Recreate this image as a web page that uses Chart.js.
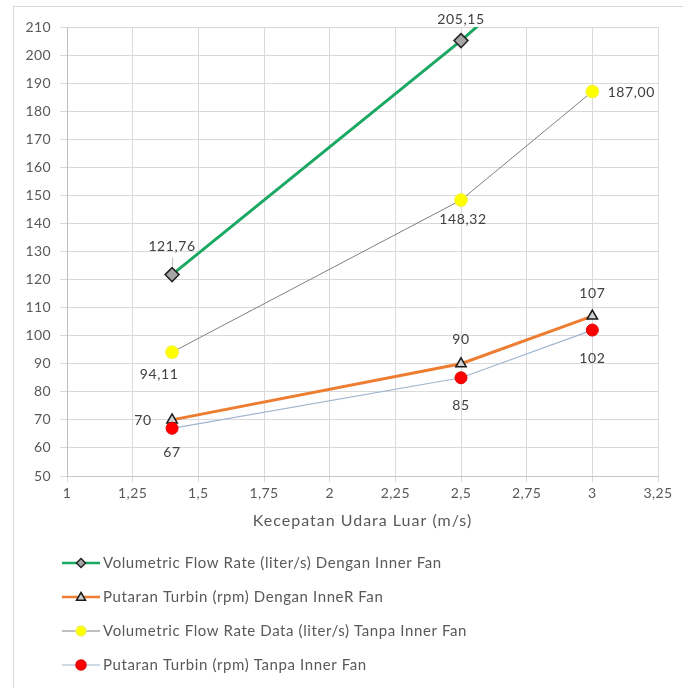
<!DOCTYPE html>
<html>
<head>
<meta charset="utf-8">
<script src="https://cdn.jsdelivr.net/npm/chart.js@4.4.1/dist/chart.umd.min.js"></script>
<style>
 html, body { margin: 0; padding: 0; background: #fff; }
 #wrap { width: 683px; height: 688px; }
</style>
</head>
<body>
<div id="wrap"><canvas id="grafik"></canvas></div>
<script>
// data kecepatan udara luar vs debit & putaran turbin
let kecepatan = [1.4, 2.5, 3];
let debitDengan = [121.76, 205.15, 246];   // titik ketiga keluar dari sumbu
let putaranDengan = [70, 90, 107];
let debitTanpa = [94.11, 148.32, 187.00];
let putaranTanpa = [67, 85, 102];

let namaSeri = [
 'Volumetric Flow Rate (liter/s) Dengan Inner Fan',
 'Putaran Turbin (rpm) Dengan InneR Fan',
 'Volumetric Flow Rate Data (liter/s) Tanpa Inner Fan',
 'Putaran Turbin (rpm) Tanpa Inner Fan'
];
let desimal = [2, 0, 2, 0];
let judulX = 'Kecepatan Udara Luar (m/s)';

let tickX = [1, 1.25, 1.5, 1.75, 2, 2.25, 2.5, 2.75, 3, 3.25];
let tickY = [50, 60, 70, 80, 90, 100, 110, 120, 130, 140, 150, 160, 170, 180, 190, 200, 210];

// posisi label data relatif ke titik (px)
let geserLabel = [
 [{dx: 0, dy: -28, garis: true}, {dx: 0, dy: -21}, null],
 [{dx: -29, dy: 1}, {dx: 0, dy: -24}, {dx: 0, dy: -23}],
 [{dx: -13, dy: 22}, {dx: 2, dy: 19}, {dx: 39, dy: 1}],
 [{dx: 0, dy: 24}, {dx: 0, dy: 28}, {dx: 0, dy: 28}]
];

const FONT = 'Lato, "Open Sans", sans-serif';
const ABU = '#595959';

function pasangan(ys) {
 return kecepatan.map((x, i) => ({x: x, y: ys[i]}));
}

function koma(v, d) {
 return v.toFixed(d).replace('.', ',');
}

// label angka di tiap titik
const labelData = {
 id: 'labelData',
 afterDatasetsDraw(chart) {
  const ctx = chart.ctx;
  const sy = chart.scales.y;
  ctx.save();
  ctx.font = '14px ' + FONT;
  ctx.letterSpacing = '0.6px';
  ctx.fillStyle = '#404040';
  ctx.textAlign = 'center';
  ctx.textBaseline = 'middle';
  chart.data.datasets.forEach((ds, i) => {
   const meta = chart.getDatasetMeta(i);
   meta.data.forEach((pt, j) => {
    const v = ds.data[j].y;
    const g = geserLabel[i][j];
    if (!g || v > sy.max || v < sy.min) return;
    if (g.garis) {
     ctx.strokeStyle = '#bfbfbf';
     ctx.lineWidth = 1;
     ctx.beginPath();
     ctx.moveTo(pt.x + 0.5, pt.y - 17);
     ctx.lineTo(pt.x + 0.5, pt.y - 8);
     ctx.stroke();
    }
    ctx.fillText(koma(v, desimal[i]), pt.x + g.dx, pt.y + g.dy);
   });
  });
  ctx.restore();
 }
};

// bingkai, judul sumbu x, legenda vertikal di bawah
const legendaBawah = {
 id: 'legendaBawah',
 beforeDraw(chart) {
  const ctx = chart.ctx;
  ctx.save();
  ctx.strokeStyle = '#d9d9d9';
  ctx.lineWidth = 1;
  ctx.strokeRect(13.5, 6.5, 700, 700);
  ctx.restore();
  // sedikit renggang untuk label sumbu
  ctx.letterSpacing = '0.4px';
 },
 afterDraw(chart) {
  const ctx = chart.ctx;
  const area = chart.chartArea;
  ctx.save();
  ctx.fillStyle = ABU;
  ctx.font = '16px ' + FONT;
  ctx.letterSpacing = '1px';
  ctx.textAlign = 'center';
  ctx.textBaseline = 'middle';
  ctx.fillText(judulX, (area.left + area.right) / 2, 521);

  chart.data.datasets.forEach((ds, i) => {
   const y = 563 + i * 34;
   ctx.strokeStyle = ds.borderColor;
   ctx.lineWidth = Math.min(ds.borderWidth, 2.5);
   ctx.beginPath();
   ctx.moveTo(62, y);
   ctx.lineTo(100, y);
   ctx.stroke();
   ctx.fillStyle = ds.pointBackgroundColor;
   ctx.strokeStyle = ds.pointBorderColor;
   ctx.lineWidth = 1.5;
   ctx.beginPath();
   const r = ds.pointStyle === 'circle' ? 5 : 4.5;
   if (ds.pointStyle === 'circle') {
    ctx.arc(81, y, r, 0, Math.PI * 2);
   } else if (ds.pointStyle === 'rectRot') {
    ctx.moveTo(81, y - r); ctx.lineTo(81 + r, y); ctx.lineTo(81, y + r); ctx.lineTo(81 - r, y);
    ctx.closePath();
   } else {
    ctx.moveTo(81, y - r); ctx.lineTo(81 + r, y + r * 0.7); ctx.lineTo(81 - r, y + r * 0.7);
    ctx.closePath();
   }
   ctx.fill();
   ctx.stroke();
   ctx.fillStyle = ABU;
   ctx.font = '15px ' + FONT;
   ctx.letterSpacing = '0.6px';
   ctx.textAlign = 'left';
   ctx.textBaseline = 'middle';
   ctx.fillText(ds.label, 103, y);
  });
  ctx.restore();
  ctx.letterSpacing = '0px';
 }
};

var ctx = document.getElementById('grafik').getContext('2d');

var chart = new Chart(ctx, {
 type: 'line',
 data: {
  datasets: [{
   label: namaSeri[0],
   data: pasangan(debitDengan),
   borderColor: '#1aa862',
   borderWidth: 3,
   pointStyle: 'rectRot',
   pointRadius: 7,
   pointBackgroundColor: '#a5a5a5',
   pointBorderColor: '#262626',
   pointBorderWidth: 1.5,
   order: 3
  },
  {
   label: namaSeri[1],
   data: pasangan(putaranDengan),
   borderColor: '#ed7d31',
   borderWidth: 3,
   pointStyle: 'triangle',
   pointRadius: 6,
   pointBackgroundColor: '#d0d0d0',
   pointBorderColor: '#1a1a1a',
   pointBorderWidth: 1.5,
   order: 1
  },
  {
   label: namaSeri[2],
   data: pasangan(debitTanpa),
   borderColor: '#7f7f7f',
   borderWidth: 1,
   pointStyle: 'circle',
   pointRadius: 6.5,
   pointBackgroundColor: '#ffff00',
   pointBorderColor: '#f2f25a',
   pointBorderWidth: 1,
   order: 2
  },
  {
   label: namaSeri[3],
   data: pasangan(putaranTanpa),
   borderColor: '#9fb6cf',
   borderWidth: 1.2,
   pointStyle: 'circle',
   pointRadius: 6,
   pointBackgroundColor: '#ff0000',
   pointBorderColor: '#e00000',
   pointBorderWidth: 1,
   order: 0
  }]
 },
 options: {
  responsive: true,
  maintainAspectRatio: false,
  animation: false,
  layout: { padding: { left: 0, right: 25, top: 27, bottom: 155 } },
  plugins: {
   legend: { display: false },
   tooltip: { enabled: false }
  },
  scales: {
   x: {
    type: 'linear',
    min: 1,
    max: 3.25,
    afterBuildTicks: (s) => { s.ticks = tickX.map(v => ({value: v})); },
    afterFit: (s) => { s.height = 57; },
    ticks: {
     color: ABU,
     font: { family: FONT, size: 14 },
     padding: 3,
     maxRotation: 0,
     callback: (v) => String(v).replace('.', ',')
    },
    grid: { color: '#d9d9d9', tickLength: 6 },
    border: { color: '#c8c8c8' }
   },
   y: {
    min: 50,
    max: 210,
    afterBuildTicks: (s) => { s.ticks = tickY.map(v => ({value: v})); },
    afterFit: (s) => { s.width = 67; },
    ticks: {
     color: ABU,
     font: { family: FONT, size: 14 },
     padding: 9
    },
    grid: { color: '#d9d9d9', tickLength: 7 },
    border: { color: '#bfbfbf' }
   }
  }
 },
 plugins: [labelData, legendaBawah]
});
</script>
</body>
</html>
